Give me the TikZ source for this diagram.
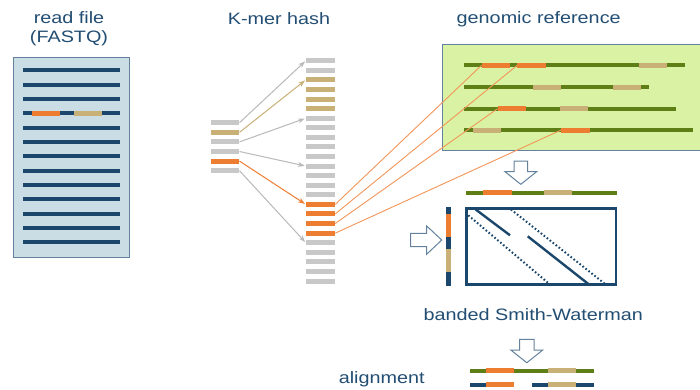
\documentclass[tikz,border=0pt]{standalone}
\usepackage{fontspec}
\setmainfont{Liberation Sans}[FakeStretch=1.2]
\usetikzlibrary{arrows.meta}

\definecolor{navy}{RGB}{27,71,108}
\definecolor{labelblue}{RGB}{35,78,115}
\definecolor{korange}{RGB}{237,125,49}
\definecolor{ktan}{RGB}{201,176,118}
\definecolor{kgray}{RGB}{200,200,200}
\definecolor{olive}{RGB}{94,126,22}
\definecolor{genfill}{RGB}{217,242,163}
\definecolor{readfill}{RGB}{202,221,229}
\definecolor{frameblue}{RGB}{100,130,158}
\definecolor{arrowgray}{RGB}{185,185,185}
\definecolor{linkorange}{RGB}{242,150,90}

\begin{document}
\begin{tikzpicture}[x=1pt,y=-1pt,
  label/.style={text=labelblue, font=\fontsize{16.5}{19}\selectfont, inner sep=0pt, align=center},
  rdline/.style={fill=navy, inner sep=0pt, minimum width=97.6pt, minimum height=4pt},
  kbar/.style={fill=#1, inner sep=0pt, minimum width=28.6pt, minimum height=5pt},
  hbar/.style={fill=#1, inner sep=0pt, minimum width=29pt, minimum height=5pt},
  seg/.style={fill=#1, inner sep=0pt, minimum width=28.3pt, minimum height=5pt},
  genline/.style={draw=olive, line width=4pt},
  readline/.style={draw=navy, line width=4pt},
  kmap/.style={-{Stealth[length=7pt,width=5pt]}, line width=1pt, shorten >=1pt, draw=#1},
  tolink/.style={draw=linkorange, line width=0.9pt},
  hollow/.style={draw=frameblue, fill=white, line width=1pt, line join=miter},
  band/.style={draw=navy, line width=2.4pt},
  bandedge/.style={draw=navy, line width=2pt, dash pattern=on 1.6pt off 2.2pt}
]
\useasboundingbox (0,0) rectangle (700,389);
\clip (0,0) rectangle (700,389);
\fill[white] (0,0) rectangle (700,389);

% titles
\node[label] (tRead) at (69,28.5) {read file\\(FASTQ)};
\node[label] (tHash) at (279,19) {K-mer hash};
\node[label] (tGen) at (538.7,19) {genomic reference};
\node[label] (tSW) at (533.3,314.3) {banded Smith-Waterman};
\node[label] (tAln) at (381.7,379.3) {alignment};

% read file
\node[draw=frameblue, fill=readfill, line width=1pt, inner sep=0pt,
      minimum width=115.6pt, minimum height=200pt] (reads) at (71.5,157) {};
\foreach \i in {0,...,12}
  \node[rdline] (r\i) at (71.5,{70.3+14.33*\i}) {};
\node[seg=korange] (rOr) at (45.85,113.3) {};
\node[seg=ktan] (rTan) at (88.15,113.3) {};

% k-mers of one read
\foreach \c [count=\i from 0] in {kgray,ktan,kgray,kgray,korange,kgray}
  \node[kbar=\c] (k\i) at (225,{122.7+9.6*\i}) {};

% hash table
\foreach \i in {0,...,23}{
  \def\c{kgray}
  \ifnum\i>1 \ifnum\i<6 \def\c{ktan}\fi\fi
  \ifnum\i>14 \ifnum\i<19 \def\c{korange}\fi\fi
  \node[hbar=\c] (h\i) at (320.5,{60.7+9.58*\i}) {};
}

% k-mer lookups
\draw[kmap=arrowgray] (k0.east) -- (h0.west);
\draw[kmap=ktan] (k1.east) -- (h2.west);
\draw[kmap=arrowgray] (k2.east) -- (h6.west);
\draw[kmap=arrowgray] (k3.east) -- (h11.west);
\draw[kmap=korange] (k4.east) -- (h15.west);
\draw[kmap=arrowgray] (k5.east) -- (h19.west);

% genomic reference: open on the right, it runs on past the edge
\fill[genfill] (442.3,44.3) rectangle (705,150.7);
\draw[frameblue, line width=1pt] (705,44.3) -- (442.3,44.3) -- (442.3,150.7) -- (705,150.7);
\draw[genline] (464.3,65.3) -- (685,65.3);
\draw[genline] (464.3,87) -- (649.3,87);
\draw[genline] (464.3,108.7) -- (676,108.7);
\draw[genline] (464.3,130) -- (693.3,130);
\node[seg=korange] (g1a) at (495.85,65.3) {};
\node[seg=korange] (g1b) at (531.5,65.3) {};
\node[seg=ktan] (g1c) at (653,65.3) {};
\node[seg=ktan] (g2a) at (547.3,87) {};
\node[seg=ktan] (g2b) at (626.7,87) {};
\node[seg=korange] (g3a) at (511.85,108.7) {};
\node[seg=ktan] (g3b) at (573.7,108.7) {};
\node[seg=ktan] (g4a) at (487.3,130) {};
\node[seg=korange] (g4b) at (575.5,130) {};

% hits into the reference
\draw[tolink] (h15.east) -- (g1a.west);
\draw[tolink] (h16.east) -- (g1b.west);
\draw[tolink] (h17.east) -- (g3a.west);
\draw[tolink] (h18.east) -- (g4b.west);

% arrow down to the candidate window
\draw[hollow] (514,161) -- (527.6,161) -- (527.6,171.7) -- (536.6,171.7)
  -- (520.8,184.3) -- (505,171.7) -- (514,171.7) -- cycle;

% candidate reference window
\draw[genline] (466,192.7) -- (616.7,192.7);
\node[seg=korange] (wOr) at (497.5,192.7) {};
\node[seg=ktan] (wTan) at (558.15,192.7) {};

% read along the vertical axis
\node[fill=navy, inner sep=0pt, minimum width=5pt, minimum height=78.7pt] (vread) at (448.7,246.65) {};
\node[fill=korange, inner sep=0pt, minimum width=5pt, minimum height=23pt] (vOr) at (448.7,225.8) {};
\node[fill=ktan, inner sep=0pt, minimum width=5pt, minimum height=22.7pt] (vTan) at (448.7,260.35) {};

% arrow pointing at the read
\draw[hollow] (410.7,233.3) -- (426.7,233.3) -- (426.7,226) -- (441.7,240)
  -- (426.7,254.2) -- (426.7,246.7) -- (410.7,246.7) -- cycle;

% dynamic programming matrix with its band
\node[draw=navy, line width=2.7pt, inner sep=0pt,
      minimum width=149.4pt, minimum height=76pt] (dp) at (541.3,246.65) {};
\draw[band] (475.7,209.5) -- (510,235.3);
\draw[band] (527.7,236.3) -- (589,284.5);
\draw[bandedge] (511,209.5) -- (605.7,284.5);
\draw[bandedge] (468.3,215.3) -- (550,284.5);

% arrow down to the alignment
\draw[hollow] (519.5,339.3) -- (534.1,339.3) -- (534.1,350) -- (542.8,350)
  -- (526.8,362.7) -- (510.8,350) -- (519.5,350) -- cycle;

% final alignment
\draw[genline] (470,370.7) -- (594,370.7);
\node[seg=korange] (aRefOr) at (500,370.7) {};
\node[seg=ktan] (aRefTan) at (561.85,370.7) {};
\draw[readline] (470,384.7) -- (514.3,384.7);
\draw[readline] (532,384.7) -- (594,384.7);
\node[seg=korange] (aRdOr) at (500,384.7) {};
\node[seg=ktan] (aRdTan) at (561.85,384.7) {};
\end{tikzpicture}
\end{document}
